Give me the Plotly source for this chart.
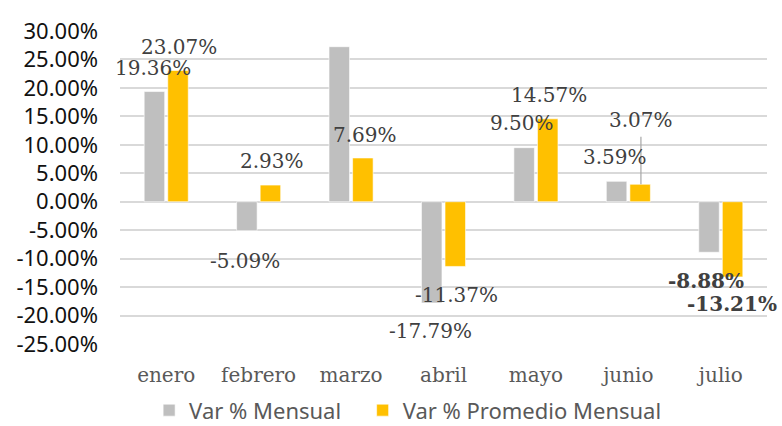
import plotly.graph_objects as go

categories = ["enero", "febrero", "marzo", "abril", "mayo", "junio", "julio"]
var_mensual = [19.36, -5.09, 27.24, -17.79, 9.50, 3.59, -8.88]
var_promedio = [23.07, 2.93, 7.69, -11.37, 14.57, 3.07, -13.21]
series_names = ["Var % Mensual", "Var % Promedio Mensual"]
y_ticks = [30, 25, 20, 15, 10, 5, 0, -5, -10, -15, -20, -25]

# label placement (text y in data units, x shift in px from category centre)
lab_mensual_y = [23.55, -10.37, 31.46, -22.67, 13.88, 7.9, -13.88]
lab_mensual_dx = [-13, -14, -13, -13, -14, -13, -15]
lab_prom_y = [27.24, 7.2, 11.78, -16.34, 18.8, 14.41, -17.93]
lab_prom_dx = [13, 13, 14, 13, 13, 13, 11]
bold_idx = [6]

GRAY = "#BFBFBF"
GOLD = "#FFC000"
SERIF = "DejaVu Serif"
SANS = "Noto Sans"

fig = go.Figure()
fig.add_bar(x=categories, y=var_mensual, name=series_names[0], legend="legend",
            marker=dict(color=GRAY, line=dict(color="white", width=0.6)))
fig.add_bar(x=categories, y=var_promedio, name=series_names[1], legend="legend2",
            marker=dict(color=GOLD, line=dict(color="white", width=0.6)))

ann = []
for i, c in enumerate(categories):
    for vals, ys, dxs in ((var_mensual, lab_mensual_y, lab_mensual_dx),
                          (var_promedio, lab_prom_y, lab_prom_dx)):
        txt = f"{vals[i]:.2f}%"
        if i in bold_idx:
            txt = f"<b>{txt}</b>"
        ann.append(dict(x=c, y=ys[i], xref="x", yref="y", text=txt,
                        showarrow=False, xshift=dxs[i],
                        font=dict(family=SERIF, size=20, color="#404040")))
fig.update_layout(annotations=ann)

# leader line for junio promedio label
fig.add_shape(type="line", xref="x", yref="y",
              x0=5 + 0.136, x1=5 + 0.136, y0=var_promedio[5], y1=11.4,
              line=dict(color="#A6A6A6", width=1.2))

leg_common = dict(orientation="h", xanchor="left", y=-0.212, yanchor="middle",
                  font=dict(family=SANS, size=22, color="#595959"),
                  itemwidth=30, bgcolor="rgba(0,0,0,0)", borderwidth=0)

fig.update_layout(
    width=782, height=426,
    margin=dict(l=120, r=15, t=31, b=82, autoexpand=False),
    paper_bgcolor="white", plot_bgcolor="white",
    barmode="group", bargap=0.49, bargroupgap=0.13,
    showlegend=True,
    legend=dict(x=0.045, **leg_common),
    legend2=dict(x=0.375, **leg_common),
    xaxis=dict(type="category", range=[-0.5, 6.5], showgrid=False, showline=False,
               zeroline=False, ticks="",
               tickfont=dict(family=SERIF, size=20, color="#595959"),
               ticklabelstandoff=17, automargin=False),
    yaxis=dict(range=[-25, 30], tickvals=y_ticks,
               ticktext=[f"{v:.2f}%" for v in y_ticks],
               showgrid=True, gridcolor="#D9D9D9", gridwidth=1.5,
               zeroline=True, zerolinecolor="#D9D9D9", zerolinewidth=1.5,
               showline=False, ticks="", automargin=False,
               tickfont=dict(family=SANS, size=22, color="#111111"),
               ticklabelstandoff=21),
)

fig.write_html("out.html", config={"displayModeBar": False},
               post_script="document.body.style.margin='0';document.body.style.padding='0';")
